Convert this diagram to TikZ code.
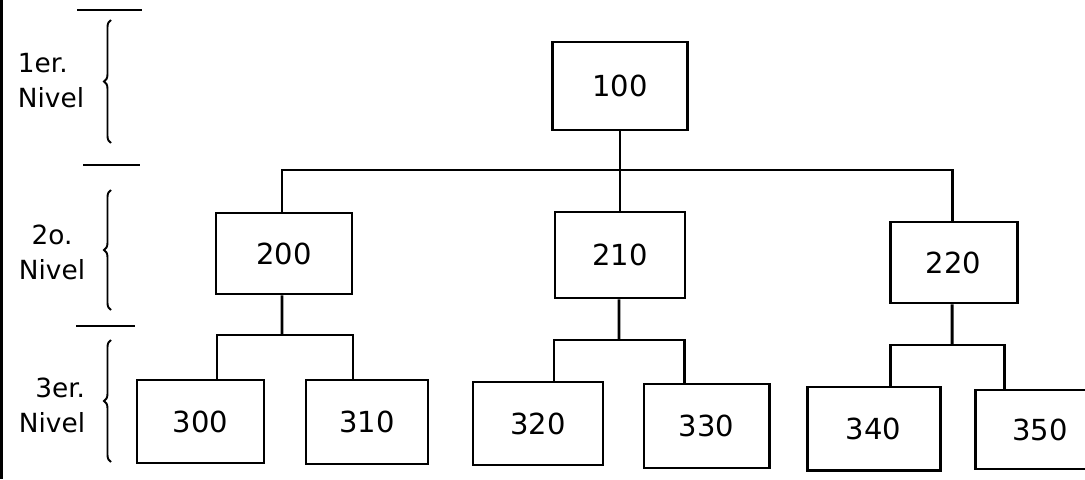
\documentclass[tikz,border=0pt]{standalone}
\usepackage{fontspec}
\setmainfont{DejaVu Sans}
\usepackage{tikz}
\usetikzlibrary{decorations.pathreplacing}

\begin{document}
\begin{tikzpicture}[line width=1.7pt,
  unitbox/.style={draw,minimum width=2.56cm,minimum height=1.68cm,inner sep=2pt,font=\fontsize{16.5}{20}\selectfont},
  lvtext/.style={font=\fontsize{15}{20}\selectfont,inner sep=0pt},
  lvbrace/.style={decorate,decoration={brace,amplitude=4pt},line width=1.1pt}]
\useasboundingbox (0,0) rectangle (21.7,-9.58);
\draw[line width=1.5pt] (0.03,0) -- (0.03,-9.58);
\node[unitbox,minimum width=2.7cm,minimum height=1.76cm] (u100) at (12.4,-1.72) {100};
\node[unitbox,minimum width=2.72cm,minimum height=1.62cm] (u200) at (5.68,-5.07) {200};
\node[unitbox,minimum width=2.6cm,minimum height=1.72cm] (u210) at (12.4,-5.1) {210};
\node[unitbox,minimum width=2.54cm,minimum height=1.62cm] (u220) at (19.07,-5.25) {220};
\node[unitbox,minimum width=2.54cm,minimum height=1.66cm] (u300) at (4.01,-8.43) {300};
\node[unitbox,minimum width=2.44cm] (u310) at (7.34,-8.44) {310};
\node[unitbox,minimum width=2.6cm,minimum height=1.66cm] (u320) at (10.76,-8.47) {320};
\node[unitbox,minimum width=2.5cm] (u330) at (14.13,-8.52) {330};
\node[unitbox,minimum width=2.66cm,minimum height=1.66cm] (u340) at (17.47,-8.57) {340};
\node[unitbox,minimum width=2.6cm,minimum height=1.58cm] (u350) at (20.8,-8.59) {350};
\coordinate (jtop) at (12.4,-3.4);
\coordinate (j200) at (5.64,-6.7);
\coordinate (j210) at (12.38,-6.8);
\coordinate (j220) at (19.04,-6.9);
\draw (u100.south) -- (jtop);
\draw (u210.north) -- (jtop);
\draw ([xshift=-0.04cm]u200.north) |- (jtop);
\draw ([xshift=-0.03cm]u220.north) |- (jtop);
\draw ([xshift=-0.04cm]u200.south) -- (j200);
\draw ([xshift=-0.02cm]u210.south) -- (j210);
\draw ([xshift=-0.03cm]u220.south) -- (j220);
\draw ([xshift=0.33cm]u300.north) |- (j200);
\draw ([xshift=-0.28cm]u310.north) |- (j200);
\draw ([xshift=0.32cm]u320.north) |- (j210);
\draw ([xshift=-0.45cm]u330.north) |- (j210);
\draw ([xshift=0.33cm]u340.north) |- (j220);
\draw ([xshift=-0.72cm]u350.north) |- (j220);
\draw (1.54,-0.2) -- (2.84,-0.2);
\draw (1.66,-3.3) -- (2.8,-3.3);
\draw (1.52,-6.52) -- (2.7,-6.52);
\draw[lvbrace] (2.22,-2.86) -- (2.22,-0.4);
\draw[lvbrace] (2.22,-6.2) -- (2.22,-3.8);
\draw[lvbrace] (2.22,-9.24) -- (2.22,-6.8);
\node[lvtext,align=left] (lv1) at (1.02,-1.62) {1er.\\Nivel};
\node[lvtext,align=center] (lv2) at (1.04,-5.04) {2o.\\Nivel};
\node[lvtext,align=right] (lv3) at (1.04,-8.1) {3er.\\Nivel};
\end{tikzpicture}
\end{document}
